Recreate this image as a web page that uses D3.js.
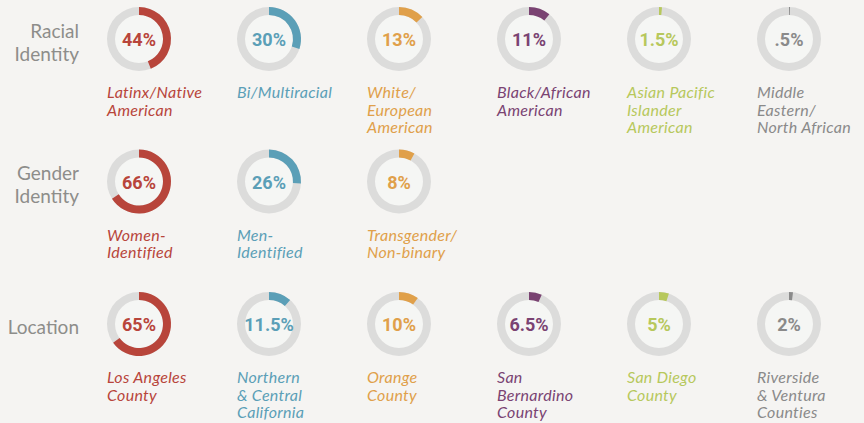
<!DOCTYPE html>
<html>
<head>
<meta charset="utf-8">
<script src="https://cdn.jsdelivr.net/npm/d3@7"></script>
<style>
  html, body { margin: 0; padding: 0; background: #f5f4f2; }
  svg { display: block; }
</style>
</head>
<body>
<div id="chart"></div>
<script>
// row titles
const rowTitles = ["Racial\nIdentity", "Gender\nIdentity", "Location"]

// racial identity
const raceLabels = ["Latinx/Native\nAmerican", "Bi/Multiracial", "White/\nEuropean\nAmerican",
  "Black/African\nAmerican", "Asian Pacific\nIslander\nAmerican", "Middle\nEastern/\nNorth African"]
const raceValues = [44, 30, 13, 11, 1.5, 0.5]
const raceText = ["44%", "30%", "13%", "11%", "1.5%", ".5%"]

// gender identity
const genderLabels = ["Women-\nIdentified", "Men-\nIdentified", "Transgender/\nNon-binary"]
const genderValues = [66, 26, 8]
const genderText = ["66%", "26%", "8%"]

// location
const locationLabels = ["Los Angeles\nCounty", "Northern\n& Central\nCalifornia", "Orange\nCounty",
  "San\nBernardino\nCounty", "San Diego\nCounty", "Riverside\n& Ventura\nCounties"]
const locationValues = [65, 11.5, 10, 6.5, 5, 2]
const locationText = ["65%", "11.5%", "10%", "6.5%", "5%", "2%"]

const colors = ["#b8453b", "#5b9fb7", "#e0a04a", "#7a4372", "#b7c85c", "#8a8a8a"]

const rows = [
  {labels: raceLabels, values: raceValues, text: raceText},
  {labels: genderLabels, values: genderValues, text: genderText},
  {labels: locationLabels, values: locationValues, text: locationText}
]

const width = 864, height = 423
const outerR = 32, innerR = 24

const svg = d3.select("#chart").append("svg")
  .attr("width", width)
  .attr("height", height)

const x = d3.scalePoint().domain(d3.range(6)).range([139, 789])
const y = d3.scalePoint().domain(d3.range(3)).range([39, 324])
const angle = d3.scaleLinear().domain([0, 100]).range([0, 2 * Math.PI])

const arc = d3.arc().innerRadius(innerR).outerRadius(outerR)

// row titles
rowTitles.forEach((t, r) => {
  const lines = t.split("\n")
  const txt = svg.append("text")
    .attr("text-anchor", "end")
    .attr("font-family", "Lato, 'Open Sans', sans-serif")
    .attr("font-size", 19)
    .attr("fill", "#8d8d8a")
  lines.forEach((line, i) => {
    txt.append("tspan")
      .attr("x", 79)
      .attr("y", y(r) + 10 - (lines.length - 1) * 11.5 + i * 23)
      .text(line)
  })
})

rows.forEach((row, r) => {
  const g = svg.selectAll(null)
    .data(row.values)
    .enter()
    .append("g")
    .attr("transform", (d, i) => `translate(${x(i)},${y(r)})`)

  // inner disc
  g.append("circle")
    .attr("r", innerR)
    .attr("fill", "#f5f6f4")

  // track
  g.append("path")
    .attr("d", arc({startAngle: 0, endAngle: 2 * Math.PI}))
    .attr("fill", "#dcdcdb")

  // value arc
  g.append("path")
    .attr("d", d => arc({startAngle: 0, endAngle: angle(d)}))
    .attr("fill", (d, i) => colors[i])

  // percent
  g.append("text")
    .attr("text-anchor", "middle")
    .attr("y", 7)
    .attr("font-family", "Roboto, 'DejaVu Sans', sans-serif")
    .attr("font-weight", "bold")
    .attr("font-size", 18)
    .attr("fill", (d, i) => colors[i])
    .text((d, i) => row.text[i])

  // labels
  g.each(function(d, i) {
    const lines = row.labels[i].split("\n")
    const txt = d3.select(this).append("text")
      .attr("font-family", "Lato, 'Open Sans', sans-serif")
      .attr("font-style", "italic")
      .attr("font-size", 16)
      .attr("letter-spacing", 0.3)
      .attr("fill", colors[i])
    lines.forEach((line, k) => {
      txt.append("tspan")
        .attr("x", -outerR)
        .attr("y", 59 + k * 17.5)
        .text(line)
    })
  })
})
</script>
</body>
</html>
